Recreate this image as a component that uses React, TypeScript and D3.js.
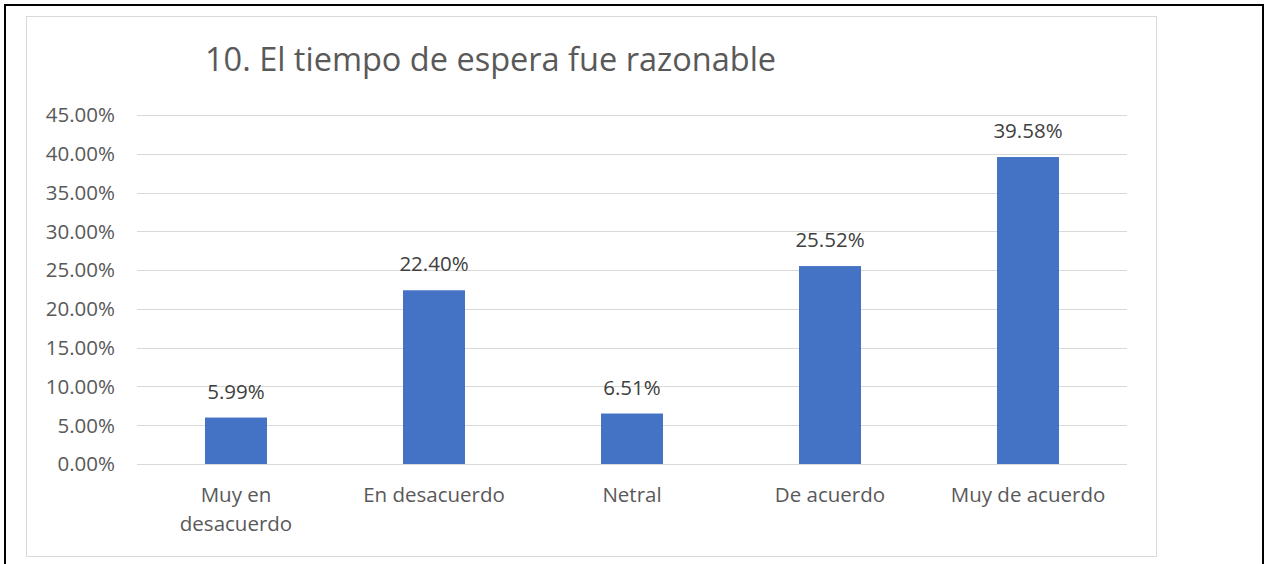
import React from "react";
import * as d3 from "d3";

const categories: string[][] = [
  ["Muy en", "desacuerdo"],
  ["En desacuerdo"],
  ["Netral"],
  ["De acuerdo"],
  ["Muy de acuerdo"],
];
const values: number[] = [5.99, 22.4, 6.51, 25.52, 39.58];
const yTicks: number[] = [0, 5, 10, 15, 20, 25, 30, 35, 40, 45];
const title = "10. El tiempo de espera fue razonable";

const W = 1265;
const H = 564;
const FONT = "'Open Sans', 'Noto Sans', sans-serif";
const TXT = "#595959";

export default function App() {
  const plotL = 137, plotR = 1127, plotT = 115, plotB = 464;
  const x = d3.scaleBand<number>().domain(d3.range(values.length)).range([plotL, plotR]).paddingInner(0.687).paddingOuter(0.3435);
  const y = d3.scaleLinear().domain([0, 45]).range([plotB, plotT]);
  return (
    <svg width={W} height={H} style={{ position: "absolute", left: 0, top: 0, background: "#fff" }} fontFamily={FONT}>
      <rect x={0} y={0} width={W} height={H} fill="#fff" />
      {/* outer black border (no bottom) */}
      <path d={`M5,${H} L5,5 L1263,5 L1263,${H}`} fill="none" stroke="#000" strokeWidth={2} />
      {/* chart frame */}
      <rect x={26.5} y={16.5} width={1130} height={540} fill="#fff" stroke="#d9d9d9" strokeWidth={1} />
      <text x={205} y={71} fontSize={32.5} fill={TXT}>{title}</text>
      {yTicks.map((t) => (
        <g key={t}>
          <line x1={plotL} x2={plotR} y1={Math.round(y(t)) + 0.5} y2={Math.round(y(t)) + 0.5} stroke="#d9d9d9" strokeWidth={1} />
          <text x={115} y={y(t)} dy="0.36em" textAnchor="end" fontSize={20.5} fill={TXT}>{d3.format(".2f")(t)}%</text>
        </g>
      ))}
      {values.map((v, i) => (
        <g key={i}>
          <rect x={x(i)} y={y(v)} width={x.bandwidth()} height={plotB - y(v)} fill="#4472c4" />
          <text x={(x(i) as number) + x.bandwidth() / 2} y={y(v) - 19} textAnchor="middle" fontSize={20.5} fill="#404040">{d3.format(".2f")(v)}%</text>
          {categories[i].map((line, j) => (
            <text key={j} x={(x(i) as number) + x.bandwidth() / 2} y={502 + j * 29} textAnchor="middle" fontSize={20.5} fill={TXT}>{line}</text>
          ))}
        </g>
      ))}
    </svg>
  );
}
